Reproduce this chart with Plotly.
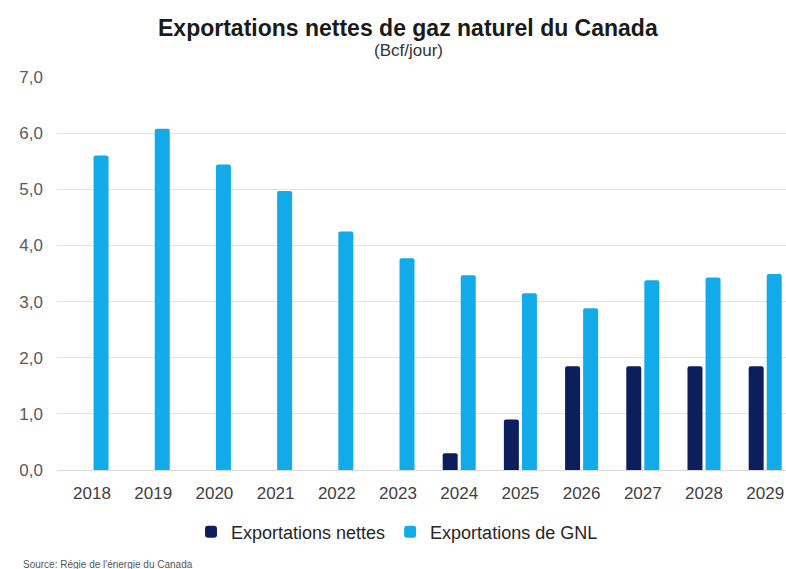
import plotly.graph_objects as go

# Données (Bcf/jour)
annees = ["2018", "2019", "2020", "2021", "2022", "2023",
          "2024", "2025", "2026", "2027", "2028", "2029"]
exportations_nettes = [None, None, None, None, None, None,
                       0.30, 0.90, 1.85, 1.85, 1.85, 1.85]
exportations_gnl = [5.60, 6.08, 5.44, 4.97, 4.25, 3.77,
                    3.47, 3.15, 2.88, 3.38, 3.43, 3.49]
y_ticks = [0, 1, 2, 3, 4, 5, 6, 7]

x_pos = list(range(len(annees)))

W, H = 786, 569
L, R, T, B = 57, 0, 77, 99
plot_w = W - L - R
plot_h = H - T - B


def px_x(px):
    return (px - L) / plot_w


def px_y(py):
    return (H - B - py) / plot_h


fig = go.Figure()
fig.add_trace(go.Bar(
    x=x_pos, y=exportations_nettes, name="Exportations nettes",
    marker=dict(color="#0c1f5c", line=dict(width=0)),
))
fig.add_trace(go.Bar(
    x=x_pos, y=exportations_gnl, name="Exportations de GNL",
    marker=dict(color="#12aae8", line=dict(width=0)),
))

fig.update_layout(
    width=W, height=H,
    margin=dict(l=L, r=R, t=T, b=B),
    paper_bgcolor="white", plot_bgcolor="white",
    barmode="group", bargap=0.41, bargroupgap=0.17,
    barcornerradius=2,
    font=dict(family="Liberation Sans, Arial, sans-serif", color="#404040"),
    showlegend=True,
    legend=dict(
        orientation="h", x=px_x(191), xanchor="left",
        y=px_y(532), yanchor="middle",
        font=dict(size=18, color="#262626"),
        itemwidth=30, traceorder="normal",
    ),
    xaxis=dict(
        range=[(L - 92) / 61.2, (W - 92) / 61.2],
        tickmode="array", tickvals=x_pos, ticktext=annees,
        tickfont=dict(size=17, color="#404040"),
        showgrid=False, zeroline=False, showline=False,
        ticks="", ticklabelstandoff=11, fixedrange=True,
    ),
    yaxis=dict(
        range=[0, 7], tickmode="array", tickvals=y_ticks,
        tickformat=".1f", tickfont=dict(size=17, color="#595959"),
        showgrid=True, gridcolor="#e3e3e3", gridwidth=1,
        zeroline=True, zerolinecolor="#d9d9d9", zerolinewidth=1,
        showline=False, ticks="", ticklabelstandoff=13,
    ),
    separators=",.",
    annotations=[
        dict(text="<b>Exportations nettes de gaz naturel du Canada</b>",
             xref="paper", yref="paper", x=px_x(408), y=px_y(28),
             xanchor="center", yanchor="middle", showarrow=False,
             font=dict(size=23, color="#1a1a1a")),
        dict(text="(Bcf/jour)",
             xref="paper", yref="paper", x=px_x(408), y=px_y(51),
             xanchor="center", yanchor="middle", showarrow=False,
             font=dict(size=17, color="#333333")),
        dict(text="Source: Régie de l'énergie du Canada",
             xref="paper", yref="paper", x=px_x(21), y=px_y(564),
             xanchor="left", yanchor="middle", showarrow=False,
             font=dict(size=10, color="#555555")),
    ],
)

fig.write_html("out.html")
